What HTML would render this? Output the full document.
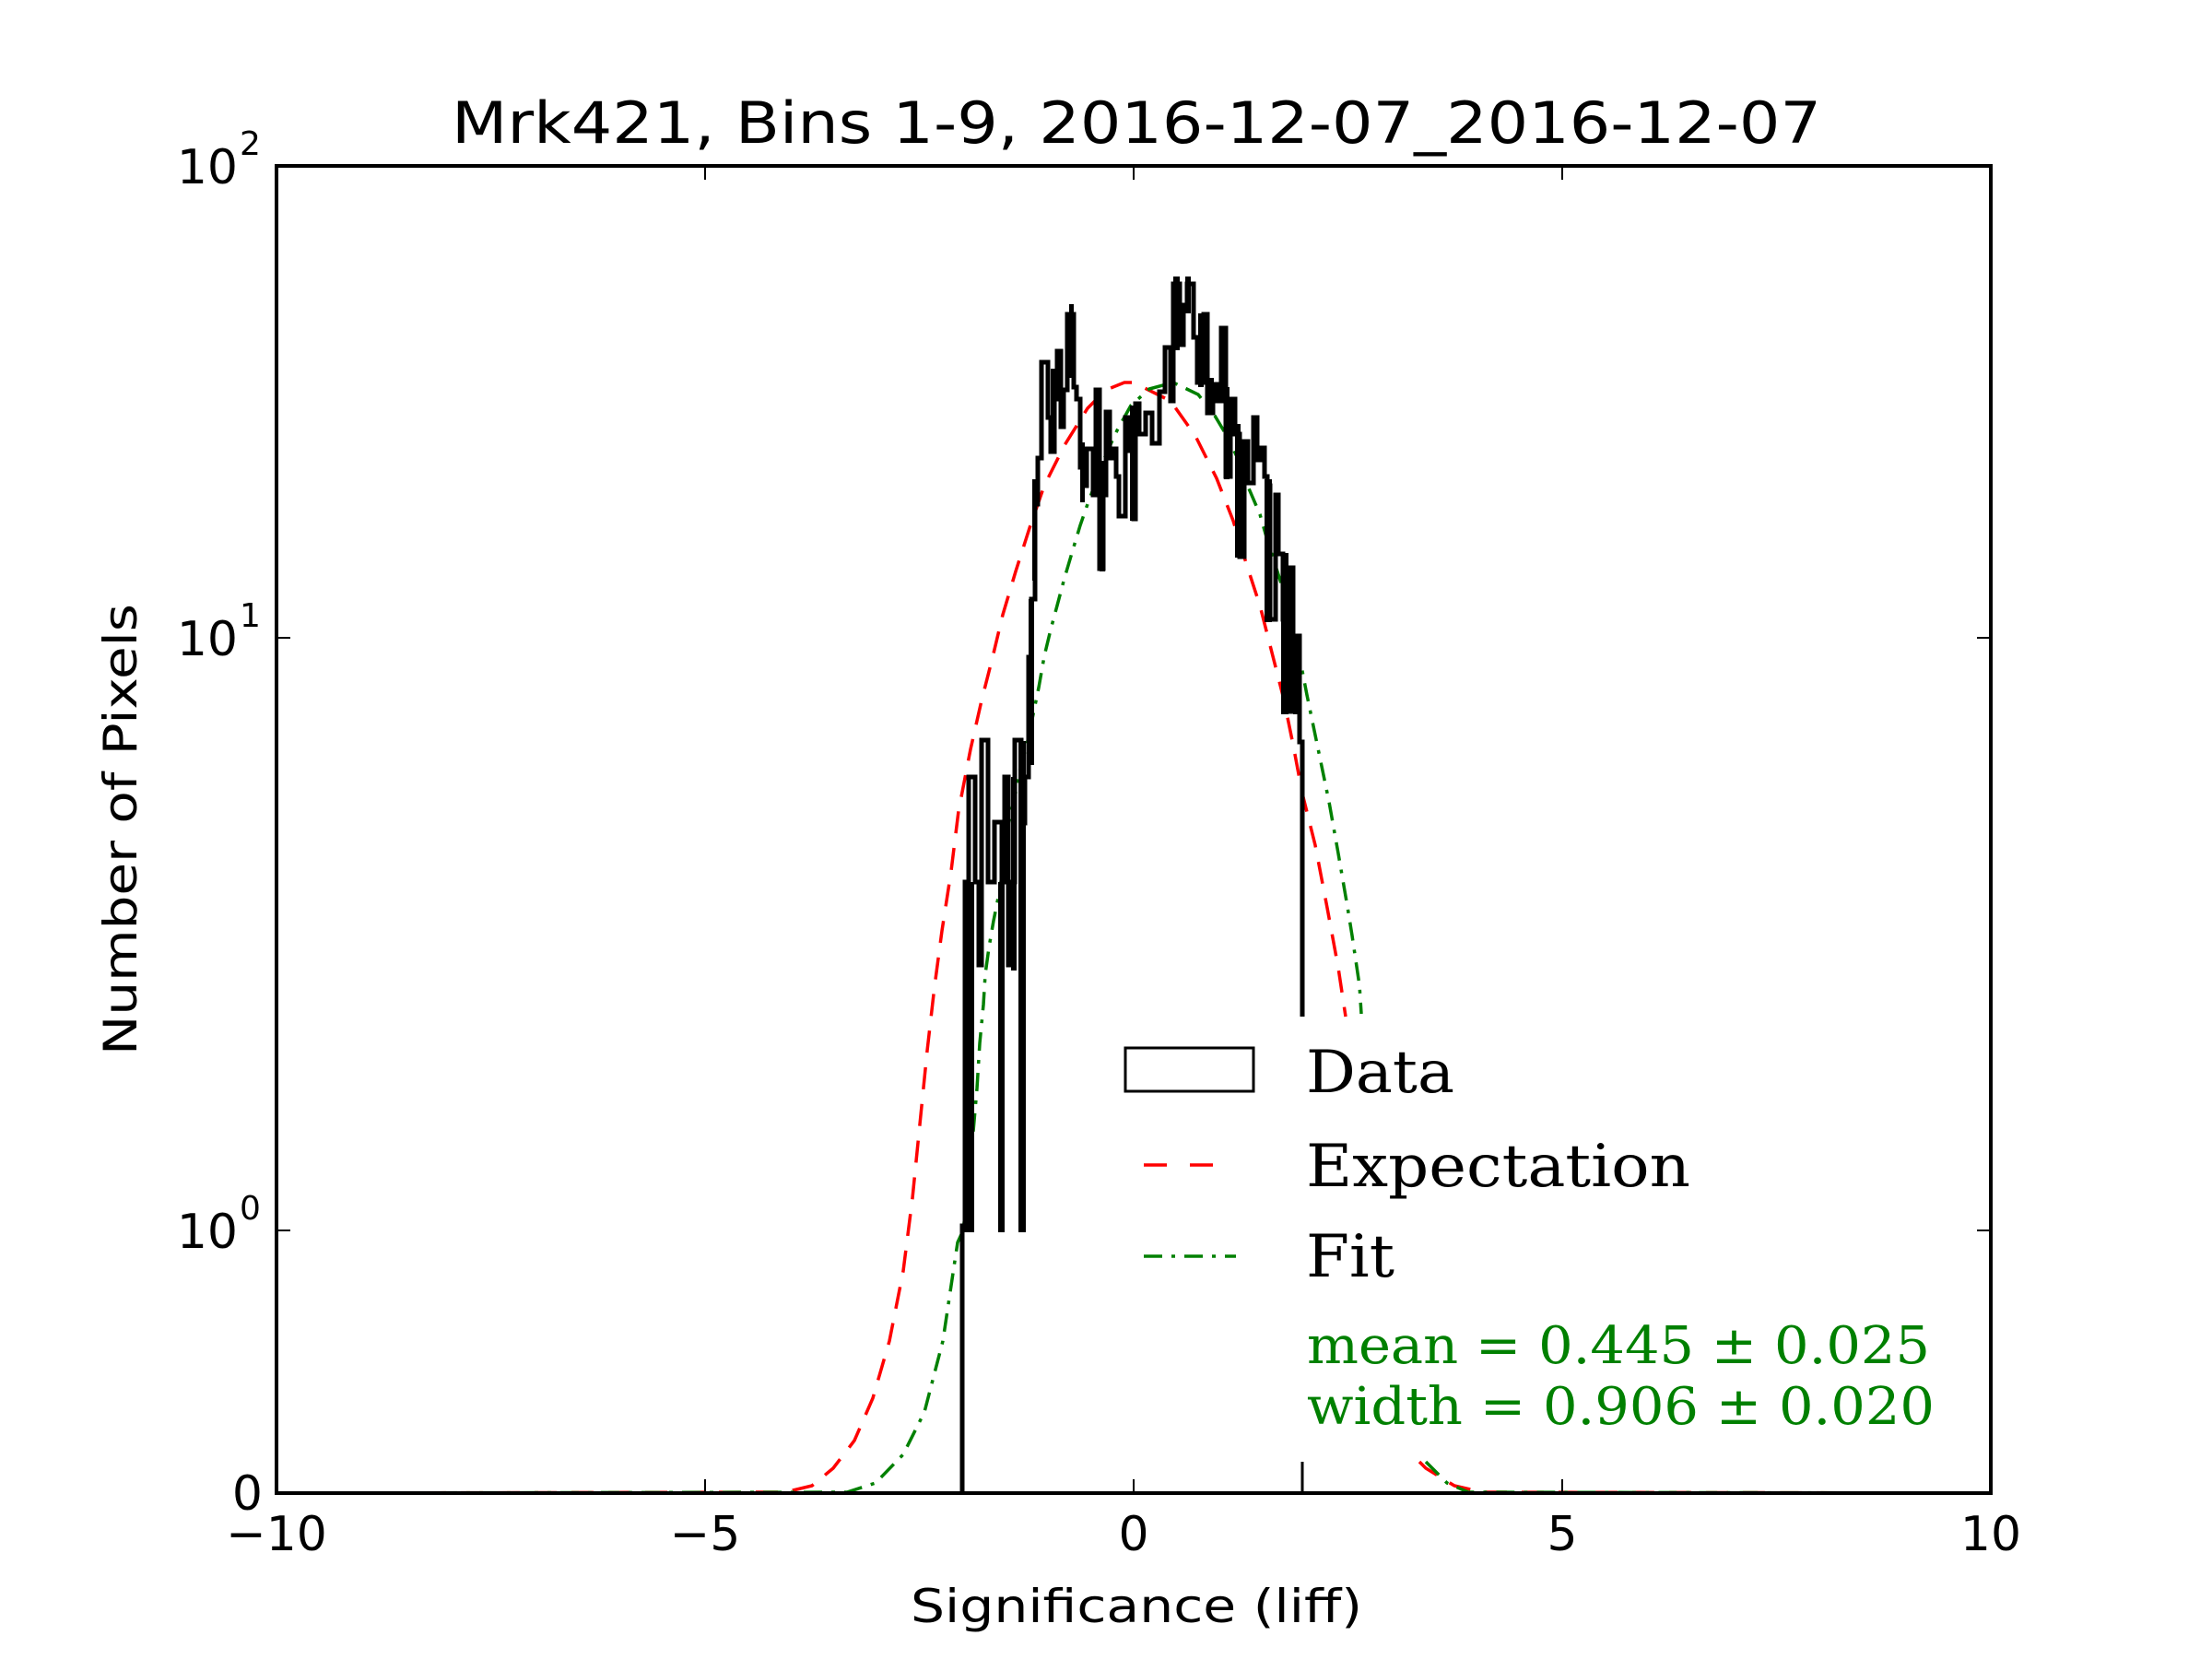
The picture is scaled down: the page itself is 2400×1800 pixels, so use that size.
<!DOCTYPE html>
<html><head><meta charset="utf-8"><style>
html,body{margin:0;padding:0;background:#fff;}
svg{display:block;}
</style></head><body>
<svg width="2400" height="1800" viewBox="0 0 2400 1800" xmlns="http://www.w3.org/2000/svg">
<rect width="2400" height="1800" fill="#fff"/>
<g font-family="DejaVu Sans, Liberation Sans, sans-serif" fill="#000">
<text x="1233" y="155" font-size="62" text-anchor="middle" textLength="1486" lengthAdjust="spacingAndGlyphs">Mrk421, Bins 1-9, 2016-12-07_2016-12-07</text>
<text x="1233" y="1760" font-size="50" text-anchor="middle" textLength="490" lengthAdjust="spacingAndGlyphs">Significance (liff)</text>
<text transform="translate(148,900) rotate(-90)" font-size="50" text-anchor="middle" textLength="490" lengthAdjust="spacingAndGlyphs">Number of Pixels</text>
<g font-size="52" text-anchor="middle">
<text x="300" y="1682">−10</text>
<text x="765" y="1682">−5</text>
<text x="1230" y="1682">0</text>
<text x="1695" y="1682">5</text>
<text x="2160" y="1682">10</text>
</g>
<g font-size="52" text-anchor="end">
<text x="258" y="199">10</text><text x="260" y="168" font-size="36" text-anchor="start">2</text>
<text x="258" y="711">10</text><text x="260" y="680" font-size="36" text-anchor="start">1</text>
<text x="258" y="1354">10</text><text x="260" y="1323" font-size="36" text-anchor="start">0</text>
<text x="285" y="1638">0</text>
</g>
</g>
<!-- curves -->
<g fill="none" stroke-width="3.5">
<path stroke="#ff0000" stroke-dasharray="24,16" d="M300,1620 L852,1619 L881,1612 L904,1593 L927,1563 L947,1517 L965,1455 L980,1379 L990,1300 L998,1220 L1006,1140 L1014,1070 L1022,1010 L1032,945 L1040,880 L1053,813 L1065,760 L1077,713 L1088,667 L1102,620 L1117,573 L1133,527 L1155,483 L1180,443 L1200,423 L1220,415 L1230,415 L1270,435 L1297,473 L1320,519 L1338,565 L1353,614 L1367,657 L1380,708 L1393,759 L1403,808 L1413,861 L1427,917 L1440,985 L1452,1050 L1460,1103"/>
<path stroke="#ff0000" stroke-dasharray="24,16" d="M1540,1586 L1547,1593 L1578,1612 L1609,1619 L2160,1620"/>
<path stroke="#008000" stroke-dasharray="20,10,4,10" d="M300,1620 L919,1619 L950,1609 L980,1578 L1003,1532 L1023,1455 L1039,1348 L1045,1335 L1050,1293 L1055,1239 L1060,1181 L1063,1132 L1067,1090 L1069,1057 L1073,1028 L1078,999 L1083,974 L1088,945 L1095,891 L1102,860 L1107,833 L1115,804 L1127,746 L1133,712 L1140,683 L1147,657 L1155,627 L1163,600 L1172,570 L1180,547 L1190,520 L1200,493 L1212,467 L1227,440 L1247,422 L1273,415 L1300,428 L1318,451 L1333,476 L1345,502 L1355,530 L1367,558 L1375,586 L1383,611 L1392,639 L1398,667 L1405,695 L1412,723 L1418,754 L1430,812 L1442,870 L1452,926 L1457,955 L1462,984 L1467,1015 L1471,1042 L1475,1069 L1477,1100"/>
<path stroke="#008000" stroke-dasharray="20,10,4,10" d="M1547,1586 L1570,1609 L1593,1619 L2160,1620"/>
</g>
<!-- histogram -->
<path fill="none" stroke="#000" stroke-width="5" stroke-linejoin="miter" d="M1044,1620 L1044,1330 L1047,1330 L1047,957 L1051,957 L1051,843 L1058,843 L1058,957 L1062,957 L1062,1047 L1065,1047 L1065,803 L1072,803 L1072,957 L1079,957 L1079,892 L1087,892 L1087,957 L1090,957 L1090,843 L1094,843 L1094,1047 L1097,1047 L1097,957 L1101,957 L1101,803 L1108,803 L1108,893 L1112,893 L1112,843 L1116,843 L1116,713 L1119,713 L1119,650 L1123,650 L1123,547 L1126,547 L1126,497 L1130,497 L1130,393 L1137,393 L1137,453 L1140,453 L1140,490 L1144,490 L1144,433 L1147,433 L1147,381 L1151,381 L1151,463 L1154,463 L1154,423 L1158,423 L1158,341 L1165,341 L1165,420 L1168,420 L1168,433 L1172,433 L1172,507 L1175,507 L1175,527 L1179,527 L1179,487 L1186,487 L1186,537 L1189,537 L1189,423 L1193,423 L1193,617 L1197,617 L1197,537 L1200,537 L1200,447 L1204,447 L1204,497 L1207,497 L1207,487 L1211,487 L1211,517 L1214,517 L1214,560 L1221,560 L1221,453 L1226,453 L1226,489 L1230,489 L1230,563 L1232,563 L1232,438 L1236,438 L1236,471 L1243,471 L1243,448 L1250,448 L1250,481 L1258,481 L1258,425 L1264,425 L1264,377 L1270,377 L1270,435 L1273,435 L1273,308 L1280,308 L1280,374 L1284,374 L1284,331 L1288,331 L1288,308 L1295,308 L1295,366 L1299,366 L1299,415 L1306,415 L1306,341 L1310,341 L1310,448 L1316,448 L1316,417 L1321,417 L1321,435 L1325,435 L1325,356 L1330,356 L1330,517 L1335,517 L1335,433 L1340,433 L1340,471 L1345,471 L1345,604 L1350,604 L1350,479 L1354,479 L1354,524 L1360,524 L1360,453 L1364,453 L1364,499 L1368,499 L1368,486 L1372,486 L1372,517 L1375,517 L1375,527 L1378,527 L1378,672 L1384,672 L1384,537 L1387,537 L1387,601 L1392,601 L1392,672 L1395,672 L1395,772 L1400,772 L1400,616 L1403,616 L1403,772 L1407,772 L1407,690 L1410,690 L1410,805 L1413,805 L1413,1103"/>
<g fill="#000">
<rect x="1046" y="957" width="11" height="380"/>
<rect x="1083" y="957" width="7" height="380"/>
<rect x="1105" y="804" width="8" height="533"/>
<rect x="1097" y="843" width="6" height="210"/>
<rect x="1116" y="650" width="6" height="180"/>
<rect x="1120" y="520" width="5" height="110"/>
<rect x="1140" y="400" width="5" height="90"/>
<rect x="1160" y="330" width="5" height="80"/>
<rect x="1172" y="480" width="5" height="65"/>
<rect x="1193" y="500" width="6" height="120"/>
<rect x="1226" y="440" width="6" height="125"/>
<rect x="1273" y="300" width="7" height="80"/>
<rect x="1286" y="300" width="6" height="40"/>
<rect x="1300" y="340" width="6" height="80"/>
<rect x="1312" y="410" width="5" height="40"/>
<rect x="1328" y="420" width="6" height="100"/>
<rect x="1340" y="460" width="6" height="145"/>
<rect x="1372" y="520" width="8" height="155"/>
<rect x="1390" y="600" width="8" height="175"/>
<rect x="1403" y="690" width="6" height="85"/>
</g>
<path stroke="#000" stroke-width="3" d="M1413,1586 L1413,1620"/>
<!-- axes frame -->
<rect x="300" y="180" width="1860" height="1440" fill="none" stroke="#000" stroke-width="4"/>
<g stroke="#000" stroke-width="2">
<path d="M765,1620 v-15 M1230,1620 v-15 M1695,1620 v-15 M765,180 v15 M1230,180 v15 M1695,180 v15"/>
<path d="M300,692 h15 M300,1335 h15 M2160,692 h-15 M2160,1335 h-15"/>
</g>
<!-- legend -->
<rect x="1221" y="1137" width="139" height="47" fill="none" stroke="#000" stroke-width="3"/>
<path d="M1241,1264 L1333,1264" stroke="#ff0000" stroke-width="3.5" stroke-dasharray="25,25"/>
<path d="M1241,1363 L1341,1363" stroke="#008000" stroke-width="3.5" stroke-dasharray="20,10,4,10"/>
<g font-family="DejaVu Serif, Liberation Serif, serif" font-size="64">
<text x="1417" y="1185" textLength="161" lengthAdjust="spacingAndGlyphs">Data</text>
<text x="1417" y="1287" textLength="417" lengthAdjust="spacingAndGlyphs">Expectation</text>
<text x="1417" y="1385" textLength="96" lengthAdjust="spacingAndGlyphs">Fit</text>
<g fill="#008000" font-size="56">
<text x="1418" y="1479" textLength="676" lengthAdjust="spacingAndGlyphs">mean = 0.445 ± 0.025</text>
<text x="1418" y="1545" textLength="681" lengthAdjust="spacingAndGlyphs">width = 0.906 ± 0.020</text>
</g>
</g>
</svg>
</body></html>
